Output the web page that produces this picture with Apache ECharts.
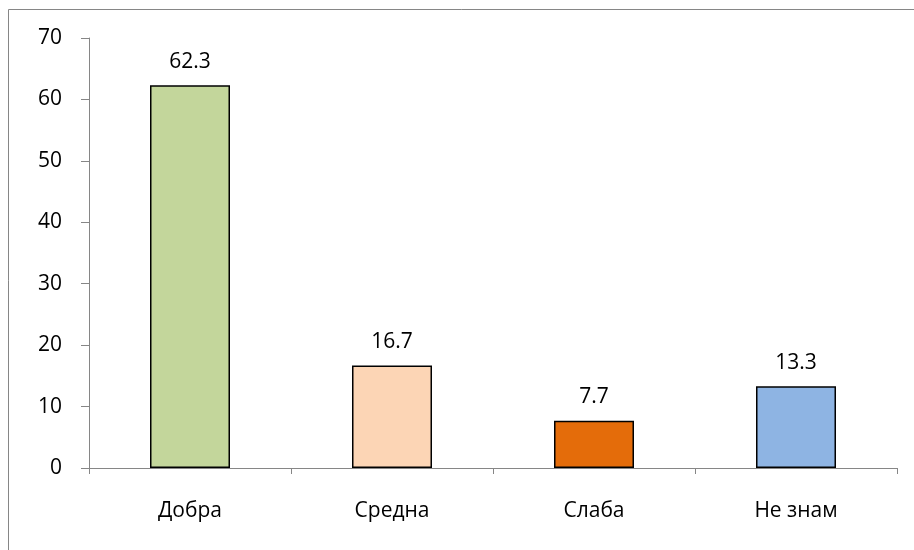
<!DOCTYPE html>
<html>
<head>
<meta charset="utf-8">
<script src="https://cdn.jsdelivr.net/npm/echarts@6/dist/echarts.min.js"></script>
<style>
  html, body { margin: 0; padding: 0; background: #fff; }
  #chart { width: 914px; height: 550px; }
</style>
</head>
<body>
<div id="chart"></div>
<script>
var myChart = echarts.init(document.getElementById('chart'));

// categories and values
var categories = ['Добра', 'Средна', 'Слаба', 'Не знам'];
var values = [62.3, 16.7, 7.7, 13.3];
var barColors = ['#C3D69B', '#FCD5B5', '#E46C0A', '#8EB4E3'];

var font = 'Open Sans';

var option = {
  animation: false,
  backgroundColor: '#fff',
  grid: { left: 89, right: 17, top: 38, bottom: 82 },
  // chart frame, running past the bottom and right edge
  graphic: [{
    type: 'rect',
    shape: { x: 8.5, y: 9.5, width: 1000, height: 1000 },
    style: { fill: 'none', stroke: '#868686', lineWidth: 1 },
    silent: true
  }],
  xAxis: {
    type: 'category',
    data: categories,
    axisLine: { lineStyle: { color: '#868686', width: 1 } },
    axisTick: { show: true, alignWithLabel: false, length: 6, lineStyle: { color: '#868686' } },
    axisLabel: { margin: 33, color: '#000', fontSize: 21, fontFamily: font }
  },
  yAxis: {
    type: 'value',
    min: 0,
    max: 70,
    interval: 10,
    splitLine: { show: false },
    axisLine: { show: true, lineStyle: { color: '#868686', width: 1 } },
    axisTick: { show: true, length: 8, lineStyle: { color: '#868686' } },
    axisLabel: { margin: 27, color: '#000', fontSize: 21, fontFamily: font }
  },
  series: [{
    type: 'bar',
    barWidth: 80,
    data: values.map(function (v, i) {
      return { value: v, itemStyle: { color: barColors[i] } };
    }),
    itemStyle: { borderColor: '#000', borderWidth: 1.5 },
    label: {
      show: true,
      position: 'top',
      distance: 13,
      color: '#000',
      fontSize: 21,
      fontFamily: font
    }
  }]
};

myChart.setOption(option);
</script>
</body>
</html>
